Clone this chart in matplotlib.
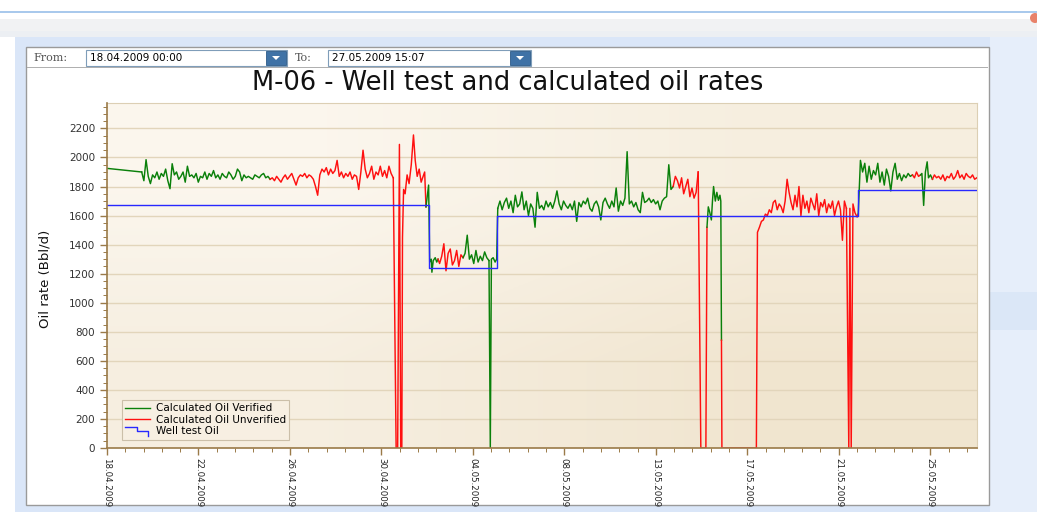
import numpy as np
import matplotlib
matplotlib.use('Agg')
import matplotlib.pyplot as plt
from matplotlib.patches import Rectangle, Polygon, Ellipse
from matplotlib.lines import Line2D
from matplotlib.legend_handler import HandlerBase
from matplotlib import font_manager

"""M-06 well test vs calculated oil rates (days counted from 18.04.2009 00:00)"""

x_end = 39.63
tick_days = np.arange(10) * 100 / 24
tick_labels = ['18.04.2009', '22.04.2009', '26.04.2009', '30.04.2009', '04.05.2009',
               '08.05.2009', '13.05.2009', '17.05.2009', '21.05.2009', '25.05.2009']

# well test (step)
well_days = [0, 14.67, 17.77, 34.21, 39.63]
well_vals = [1675, 1240, 1600, 1775, 1775]

# calculated oil, pieces in time order, v = verified, u = unverified
ver_a_t = [0.0, 1.58]
ver_a = [1925, 1900]
ver_b = [1840, 1985, 1870, 1820, 1880, 1860, 1900, 1850, 1890, 1870,
         1920, 1840, 1785, 1957, 1880, 1900, 1850, 1870, 1900, 1830,
         1940, 1870, 1880, 1860, 1890, 1830, 1870, 1860, 1900, 1850,
         1890, 1870, 1910, 1860, 1880, 1850, 1890, 1870, 1860, 1900,
         1880, 1850, 1870, 1920, 1900, 1840, 1880, 1860, 1870, 1860,
         1850, 1880, 1870, 1860, 1880, 1890, 1860, 1870, 1850]
unv_c = [1860, 1840, 1870, 1850, 1830, 1860, 1880, 1850, 1870, 1890,
         1850, 1810, 1860, 1880, 1870, 1890, 1860, 1880, 1870, 1850,
         1800, 1740, 1880, 1920, 1900, 1930, 1880, 1920, 1890, 1910,
         1980, 1870, 1900, 1860, 1890, 1870, 1900, 1850, 1880, 1870,
         1780, 1900, 2050, 1920, 1860, 1890, 1940, 1850, 1900, 1880,
         1940, 1870, 1910, 1860, 1940, 1890, 1860]
unv_d_t = [13.17, 13.24, 13.32, 13.38, 13.43, 13.46, 13.51, 13.58, 13.67, 13.76,
           13.86, 13.96, 14.04, 14.13, 14.22, 14.31, 14.40, 14.47, 14.53]
unv_d = [0, 0, 2090, 0, 0, 1450, 1780, 1750, 1880, 1820,
         1950, 2155, 1980, 1870, 1920, 1830, 1870, 1900, 1660]
ver_e_t = [14.65, 14.70, 14.77, 14.80, 14.86, 14.95, 15.02, 15.08]
ver_e = [1810, 1280, 1300, 1210, 1290, 1310, 1280, 1300]
unv_f = [1270, 1320, 1406, 1220, 1340, 1370, 1260, 1290, 1360, 1250, 1330, 1310]
ver_g = [1340, 1465, 1300, 1330, 1270, 1360, 1280, 1320, 1290, 1350, 1310, 1290]
ver_g2_t = [17.46, 17.51, 17.59, 17.68, 17.75, 17.80]
ver_g2 = [0, 1300, 1310, 1280, 1300, 1650]
ver_h = [1700, 1640, 1690, 1720, 1650, 1700, 1620, 1740, 1660,
         1680, 1763, 1640, 1700, 1600, 1680, 1650, 1520, 1760, 1650,
         1670, 1640, 1700, 1660, 1690, 1650, 1700, 1770, 1680, 1640,
         1700, 1670, 1650, 1680, 1640, 1700, 1560, 1690, 1660, 1700,
         1680, 1720, 1650, 1630, 1680, 1700, 1660, 1570, 1690, 1720,
         1680, 1650, 1700, 1660, 1790, 1630, 1700, 1670, 1720, 2040,
         1680, 1700, 1660, 1690, 1640, 1620, 1760, 1690, 1700, 1720,
         1690, 1710, 1680, 1700, 1640, 1700, 1720, 1730, 1950, 1780, 1800]
unv_i = [1870, 1840, 1790, 1860, 1750, 1800, 1850, 1730, 1790, 1720, 1760, 1900]
unv_i2_t = [27.05, 27.28, 27.33]
unv_i2 = [0, 0, 1520]
ver_j_t = [27.39, 27.46, 27.53, 27.58, 27.63, 27.71, 27.78, 27.85, 27.92, 27.96, 27.99]
ver_j = [1660, 1620, 1570, 1700, 1800, 1700, 1760, 1705, 1740, 1700, 742]
unv_k_t = [28.01, 29.58]
unv_k = [0, 0]
unv_l = [1485, 1520, 1560, 1570, 1610, 1600, 1640, 1620, 1690, 1705,
         1640, 1680, 1660, 1620, 1700, 1850, 1760, 1690, 1640, 1740,
         1660, 1800, 1600, 1740, 1650, 1700, 1620, 1720, 1680, 1640,
         1750, 1600, 1690, 1660, 1710, 1620, 1680, 1650, 1700, 1600,
         1660, 1700, 1640, 1430, 1700, 1650]
unv_m_t = [33.79, 33.84, 33.90, 33.98, 34.07, 34.17, 34.22]
unv_m = [0, 1650, 0, 1680, 1620, 1590, 1610]
ver_l = [1980, 1900, 1960, 1830, 1940, 1850, 1910, 1880, 1960, 1830,
         1900, 1810, 1920, 1870, 1770, 1900, 1960, 1850, 1890, 1840,
         1880, 1860, 1890, 1870, 1880]
unv_n = [1860, 1900, 1870, 1880]
ver_o_t = [37.12, 37.20, 37.28, 37.36, 37.42, 37.51, 37.60]
ver_o = [1890, 1670, 1900, 1970, 1860, 1880, 1850]
unv_p = [1880, 1860, 1870, 1850, 1880, 1840, 1870, 1860, 1890, 1850,
         1870, 1910, 1860, 1880, 1850, 1890, 1870, 1860, 1880, 1850, 1860]

pieces = [
    ('v', ver_a_t, ver_a),
    ('v', np.linspace(1.68, 7.43, len(ver_b)), ver_b),
    ('u', np.linspace(7.53, 13.04, len(unv_c)), unv_c),
    ('u', unv_d_t, unv_d),
    ('v', ver_e_t, ver_e),
    ('u', np.linspace(15.15, 16.22, len(unv_f)), unv_f),
    ('v', np.linspace(16.31, 17.40, len(ver_g)), ver_g),
    ('v', ver_g2_t, ver_g2),
    ('v', np.linspace(17.90, 25.79, len(ver_h)), ver_h),
    ('u', np.linspace(25.89, 26.93, len(unv_i)), unv_i),
    ('u', unv_i2_t, unv_i2),
    ('v', ver_j_t, ver_j),
    ('u', unv_k_t, unv_k),
    ('u', np.linspace(29.63, 33.68, len(unv_l)), unv_l),
    ('u', unv_m_t, unv_m),
    ('v', np.linspace(34.32, 36.69, len(ver_l)), ver_l),
    ('u', np.linspace(36.78, 37.06, len(unv_n)), unv_n),
    ('v', ver_o_t, ver_o),
    ('u', np.linspace(37.69, 39.62, len(unv_p)), unv_p),
]

GREEN = '#0a800a'
RED = '#ff1010'
BLUE = '#2828ff'
AXIS = '#9a7a48'

W, H = 1037, 512


def fx(x):
    return x / W


def fy(y):
    return 1 - y / H


def prect(fig, x0, y0, x1, y1, fc, ec='none', lw=0):
    fig.patches.append(Rectangle((fx(x0), fy(y1)), (x1 - x0) / W, (y1 - y0) / H,
                                 transform=fig.transFigure, facecolor=fc,
                                 edgecolor=ec, linewidth=lw, zorder=-10))


def has_font(name, **kw):
    try:
        font_manager.findfont(font_manager.FontProperties(family=name, **kw),
                              fallback_to_default=False)
        return True
    except Exception:
        return False


# condensed face for axis texts, if there is one
if has_font('Liberation Sans Narrow'):
    narrow = dict(family='Liberation Sans Narrow')
    xl_size, yl_size = 7.5, 11
else:
    narrow = dict(family='DejaVu Sans')
    xl_size, yl_size = 6.2, 9.5

fig = plt.figure(figsize=(W / 100, H / 100), dpi=100)
fig.patch.set_facecolor('white')

# window chrome
prect(fig, 0, 11, W, 13, '#a9c9ec')
prect(fig, 0, 19, W, 31, '#f1f2f3')
prect(fig, 0, 31, W, 37, '#eceff3')
prect(fig, 15, 37, W, H, '#dae6f8')
prect(fig, 990, 37, W, H, '#e6eefa')
prect(fig, 990, 292, W, 330, '#dbe7f7')
prect(fig, 26, 47, 989, 505, 'white', ec='#9a9a9a', lw=1)
prect(fig, 27, 67, 988, 68, '#b0b0b0')
fig.patches.append(Ellipse((fx(1035), fy(18)), 10 / W, 10 / H, transform=fig.transFigure,
                           facecolor='#e8826a', edgecolor='none', zorder=-5))

# date pickers
fig.text(fx(33), fy(58), 'From:', family='DejaVu Serif', fontsize=8, color='#555555', va='center')
fig.text(fx(295), fy(58), 'To:', family='DejaVu Serif', fontsize=8, color='#555555', va='center')
for x0, x1, txt in [(86, 287, '18.04.2009 00:00'), (328, 531, '27.05.2009 15:07')]:
    prect(fig, x0, 50, x1, 66, 'white', ec='#7f9db9', lw=0.8)
    prect(fig, x1 - 21, 51, x1 - 1, 65, '#3f72a6', ec='#2c5a88', lw=0.6)
    fig.text(fx(x0 + 4), fy(58), txt, fontsize=7.5, color='black', va='center')
    fig.patches.append(Polygon([(fx(x1 - 15), fy(56)), (fx(x1 - 7), fy(56)), (fx(x1 - 11), fy(60))],
                               closed=True, transform=fig.transFigure, facecolor='white',
                               edgecolor='none', zorder=-5))

fig.text(fx(508), fy(83), 'M-06 - Well test and calculated oil rates', fontsize=18.5,
         color='#111111', ha='center', va='center')

ax = fig.add_axes([fx(107), fy(448), (977 - 107) / W, (448 - 103) / H])
grad = np.array([[[0.985, 0.965, 0.930], [0.965, 0.935, 0.875]],
                 [[0.965, 0.935, 0.880], [0.945, 0.900, 0.815]]])
ax.imshow(grad, extent=[0, 1, 0, 1], transform=ax.transAxes, aspect='auto',
          interpolation='bilinear', zorder=0)

for y in range(200, 2400, 200):
    ax.axhline(y, color='#e2d5bb', linewidth=1, zorder=1)

prev = None
for kind, t, v in pieces:
    t = list(t)
    v = list(v)
    if prev is not None:
        t = [prev[0]] + t
        v = [prev[1]] + v
    ax.plot(t, v, color=GREEN if kind == 'v' else RED, linewidth=1.05, zorder=3)
    prev = (t[-1], v[-1])

ax.plot(well_days, well_vals, drawstyle='steps-post', color=BLUE, linewidth=1.0, zorder=4)

ax.set_xlim(0, x_end)
ax.set_ylim(0, 2375)
ax.set_xticks(tick_days)
ax.set_xticklabels(tick_labels, rotation=-90, fontsize=xl_size, color='#222222', **narrow)
ax.set_xticks(np.arange(0, x_end, 20 / 24), minor=True)
ax.set_yticks(range(0, 2400, 200))
ax.set_yticks(range(0, 2400, 50), minor=True)
ax.tick_params(axis='y', labelsize=7.5, colors='#333333')
ax.tick_params(axis='x', pad=2)
ax.tick_params(which='major', length=5, color=AXIS, width=1)
ax.tick_params(which='minor', length=3, color=AXIS, width=0.7)
for side in ['left', 'bottom']:
    ax.spines[side].set_color(AXIS)
    ax.spines[side].set_linewidth(1.2)
    ax.spines[side].set_zorder(6)
ax.spines['top'].set_color('#dccfb4')
ax.spines['right'].set_color('#dccfb4')

fig.text(fx(45), fy(279), 'Oil rate (Bbl/d)', rotation=90, fontsize=yl_size,
         color='#111111', ha='center', va='center', **narrow)


class StepHandler(HandlerBase):
    def create_artists(self, legend, orig_handle, xdescent, ydescent, width, height,
                       fontsize, trans):
        xs = np.array([0, 0.45, 0.45, 0.9, 0.9]) * width - xdescent
        ys = np.array([0.95, 0.95, 0.45, 0.45, -0.2]) * height - ydescent
        return [Line2D(xs, ys, color=BLUE, linewidth=1.0, transform=trans)]


h_ver = Line2D([], [], color=GREEN, linewidth=1.0)
h_unv = Line2D([], [], color=RED, linewidth=1.0)
h_well = Line2D([], [], color=BLUE, linewidth=1.0)
leg = ax.legend([h_ver, h_unv, h_well],
                ['Calculated Oil Verified', 'Calculated Oil Unverified', 'Well test Oil'],
                handler_map={h_well: StepHandler()}, loc='lower left',
                bbox_to_anchor=(0.017, 0.023), borderaxespad=0, fontsize=7.5,
                handlelength=2.4, handletextpad=0.5, labelspacing=0.15,
                borderpad=0.35, fancybox=False, framealpha=1)
leg.get_frame().set_facecolor('#f7efe2')
leg.get_frame().set_edgecolor('#cbbfa9')
leg.get_frame().set_linewidth(0.8)
leg.set_zorder(7)

plt.savefig('out.png', dpi=100)
